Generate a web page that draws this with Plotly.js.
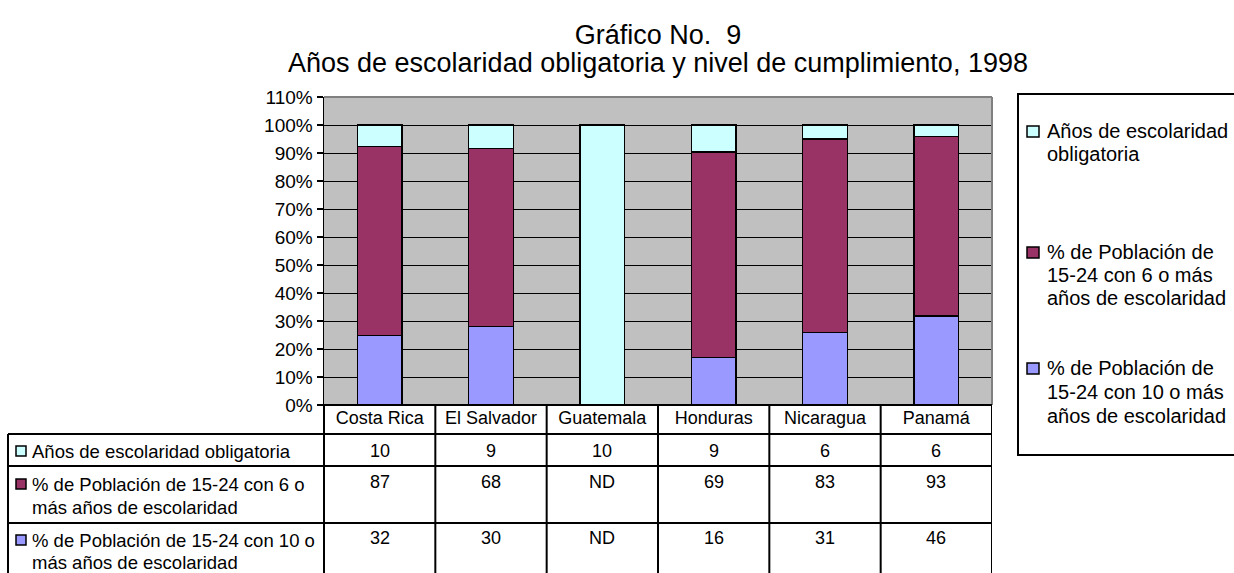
<!DOCTYPE html>
<html>
<head>
<meta charset="utf-8">
<script src="https://cdn.plot.ly/plotly-3.0.1.min.js"></script>
<style>html,body{margin:0;padding:0;background:#fff;}#chart{width:1234px;height:573px;}</style>
</head>
<body>
<div id="chart"></div>
<script>
// ---- data ----
const countries = ["Costa Rica", "El Salvador", "Guatemala", "Honduras", "Nicaragua", "Panamá"];
const yearsObligatory = [10, 9, 10, 9, 6, 6];
const pop6plus = [87, 68, null, 69, 83, 93];
const pop10plus = [32, 30, null, 16, 31, 46];
const seriesNames = [
  "Años de escolaridad obligatoria",
  "% de Población de 15-24 con 6 o más años de escolaridad",
  "% de Población de 15-24 con 10 o más años de escolaridad"
];
const seriesColors = ["#CCFFFF", "#993366", "#9999FF"];
const titleLine1 = "Gráfico No.\u00a0 9";
const titleLine2 = "Años de escolaridad obligatoria y nivel de cumplimiento, 1998";
const tableLabelLines = [
  ["Años de escolaridad obligatoria"],
  ["% de Población de 15-24 con 6 o", "más años de escolaridad"],
  ["% de Población de 15-24 con 10 o", "más años de escolaridad"]
];
const legendLabelLines = [
  ["Años de escolaridad", "obligatoria"],
  ["% de Población de", "15-24 con 6 o más", "años de escolaridad"],
  ["% de Población de", "15-24 con 10 o más", "años de escolaridad"]
];
const tableSeries = [yearsObligatory, pop6plus, pop10plus];

// ---- geometry helpers (pixel -> paper) ----
const W = 1234, H = 573;
const L = 324, R = 992, T = 97, B = 405;
const PW = R - L, PH = B - T;
const px = v => (v - L) / PW;
const py = v => (B - v) / PH;
const FONT = "Liberation Sans, Arial, sans-serif";

const traces = [
  {name: seriesNames[2], y: pop10plus, color: seriesColors[2]},
  {name: seriesNames[1], y: pop6plus, color: seriesColors[1]},
  {name: seriesNames[0], y: yearsObligatory, color: seriesColors[0]}
].map(s => ({
  type: "bar", x: countries, y: s.y, name: s.name, width: 0.4,
  marker: {color: s.color, line: {color: "#000", width: 1.5}},
  hoverinfo: "x+y+name"
}));

const shapes = [];
const annotations = [];
const blk = {color: "#000", width: 2};

// plot border (gray top/right)
shapes.push({type: "line", xref: "paper", yref: "paper", x0: 0, x1: 1, y0: 1, y1: 1, line: {color: "#808080", width: 2}});
shapes.push({type: "line", xref: "paper", yref: "paper", x0: 1, x1: 1, y0: 0, y1: 1, line: {color: "#808080", width: 2}});

// table rows
const rowLines = [434, 466, 523, 582];
shapes.push({type: "line", xref: "paper", yref: "paper", x0: 0, x1: 1, y0: 0, y1: 0, line: blk});
rowLines.forEach(r => shapes.push({type: "line", xref: "paper", yref: "paper", x0: px(8), x1: 1, y0: py(r), y1: py(r), line: blk}));
shapes.push({type: "line", xref: "paper", yref: "paper", x0: px(8), x1: px(8), y0: py(434), y1: py(582), line: blk});
shapes.push({type: "line", xref: "paper", yref: "paper", x0: 0, x1: 0, y0: 0, y1: py(582), line: blk});
for (let i = 0; i < countries.length; i++) {
  shapes.push({type: "line", xref: "x", yref: "paper", x0: i + 0.5, x1: i + 0.5, y0: 0, y1: py(582), line: blk});
}

// table values
const valueRowY = [451, 482, 538];
tableSeries.forEach((arr, r) => {
  arr.forEach((v, i) => {
    annotations.push({xref: "x", yref: "paper", x: i, y: py(valueRowY[r]), text: v === null ? "ND" : String(v),
      showarrow: false, xanchor: "center", yanchor: "middle", font: {family: FONT, size: 18, color: "#000"}});
  });
});

// table row labels with swatches
const labelLineY = [[451], [484, 507], [540, 562]];
tableLabelLines.forEach((lines, r) => {
  const yc = labelLineY[r][0];
  shapes.push({type: "rect", xref: "paper", yref: "paper", x0: px(16), x1: px(26), y0: py(yc - 5), y1: py(yc + 5),
    fillcolor: seriesColors[r], line: {color: "#000", width: 1.5}});
  lines.forEach((t, k) => {
    annotations.push({xref: "paper", yref: "paper", x: px(30), y: py(labelLineY[r][k]), text: t, showarrow: false,
      xanchor: "left", yanchor: "middle", font: {family: FONT, size: 18.5, color: "#000"}});
  });
});

// legend box
shapes.push({type: "rect", xref: "paper", yref: "paper", x0: px(1018), x1: px(1240), y0: py(455), y1: py(94),
  line: {color: "#000", width: 2}, fillcolor: "rgba(255,255,255,0)"});
const legendLineY = [[131, 154], [252, 275, 298], [368, 392, 416]];
legendLabelLines.forEach((lines, r) => {
  const yc = legendLineY[r][0];
  shapes.push({type: "rect", xref: "paper", yref: "paper", x0: px(1027), x1: px(1039), y0: py(yc - 5), y1: py(yc + 6),
    fillcolor: seriesColors[r], line: {color: "#000", width: 1.5}});
  lines.forEach((t, k) => {
    annotations.push({xref: "paper", yref: "paper", x: px(1045), y: py(legendLineY[r][k]), text: t, showarrow: false,
      xanchor: "left", yanchor: "middle", font: {family: FONT, size: 20, color: "#000"}});
  });
});

// title second line
annotations.push({xref: "paper", yref: "paper", x: 0.5, y: py(63), text: titleLine2, showarrow: false,
  xanchor: "center", yanchor: "middle", font: {family: FONT, size: 27, color: "#000"}});

const layout = {
  width: W, height: H,
  margin: {l: L, r: W - R, t: T, b: H - B, pad: 0},
  paper_bgcolor: "#fff", plot_bgcolor: "#C0C0C0",
  barmode: "stack", barnorm: "percent",
  showlegend: false,
  font: {family: FONT, color: "#000"},
  title: {
    text: titleLine1,
    font: {family: FONT, size: 27, color: "#000"},
    xref: "paper", x: 0.5, xanchor: "center",
    yref: "container", y: 1 - 35 / H, yanchor: "middle"
  },
  xaxis: {type: "category", range: [-0.5, 5.5], showgrid: false, showline: false, zeroline: false,
    ticks: "", tickfont: {family: FONT, size: 18, color: "#000"}, fixedrange: true},
  yaxis: {range: [0, 110], dtick: 10, tick0: 0, ticksuffix: "%", showgrid: true, gridcolor: "#000", gridwidth: 1,
    zeroline: false, showline: true, linecolor: "#000", linewidth: 1.5, ticks: "outside", ticklen: 6,
    tickcolor: "#000", tickwidth: 1.5, tickfont: {family: FONT, size: 19, color: "#000"}, fixedrange: true},
  shapes: shapes,
  annotations: annotations
};

Plotly.newPlot("chart", traces, layout, {displayModeBar: false, staticPlot: true});
</script>
</body>
</html>
